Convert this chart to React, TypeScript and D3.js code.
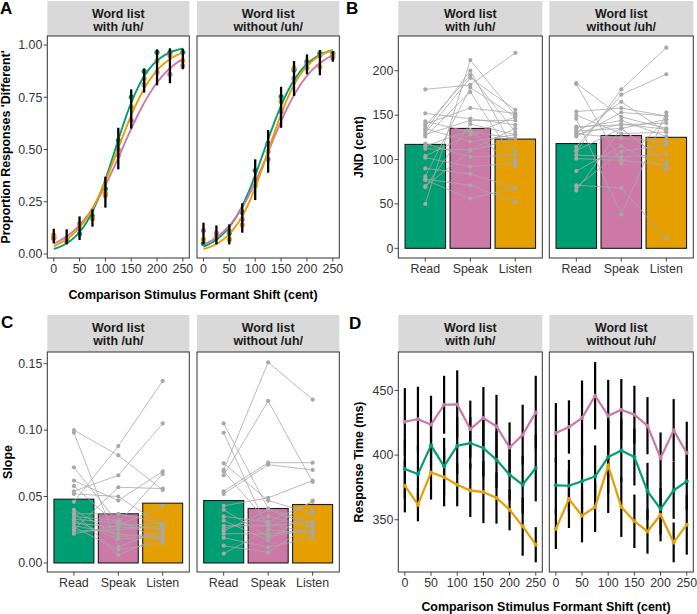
import * as d3 from 'd3';

// ---- shared ----
const groups = ['Read', 'Speak', 'Listen'];
const groupColors = ['#009E73', '#CC79A7', '#E69F00'];
const facetLines = [['Word list', 'with /uh/'], ['Word list', 'without /uh/']];
const shifts = [0, 25, 50, 75, 100, 125, 150, 175, 200, 225, 250];
const shiftTicks = [0, 50, 100, 150, 200, 250];

// ---- panel A: proportion 'different' (Read, Speak, Listen) ----
const propWith = [
  [0.08, 0.07, 0.097, 0.18, 0.312, 0.544, 0.751, 0.874, 0.965, 0.965, 0.965],
  [0.075, 0.06, 0.12, 0.17, 0.28, 0.472, 0.64, 0.81, 0.87, 0.86, 0.9],
  [0.09, 0.075, 0.145, 0.174, 0.29, 0.5, 0.703, 0.839, 0.923, 0.95, 0.925],
];
const propWithout = [
  [0.05, 0.08, 0.1, 0.2, 0.399, 0.53, 0.753, 0.88, 0.92, 0.96, 0.96],
  [0.112, 0.1, 0.11, 0.166, 0.36, 0.453, 0.68, 0.84, 0.91, 0.95, 0.94],
  [0.07, 0.08, 0.07, 0.139, 0.327, 0.49, 0.73, 0.888, 0.89, 0.896, 0.95],
];
const propLoWith = [0.051, 0.046, 0.067, 0.131, 0.222, 0.405, 0.6, 0.772, 0.807, 0.817, 0.884];
const propHiWith = [0.121, 0.118, 0.18, 0.214, 0.37, 0.604, 0.788, 0.888, 0.979, 0.984, 0.982];
const propLoWithout = [0.046, 0.046, 0.046, 0.102, 0.258, 0.389, 0.604, 0.756, 0.86, 0.855, 0.92];
const propHiWithout = [0.15, 0.137, 0.142, 0.243, 0.453, 0.593, 0.8, 0.923, 0.955, 0.976, 0.97];
// fitted logistic parameters per group (midpoint in cent, slope)
const fitMidWith = [119, 132, 124];
const fitSlopeWith = [0.031, 0.0223, 0.026];
const fitMidWithout = [118, 127, 126];
const fitSlopeWithout = [0.028, 0.024, 0.0295];

// ---- panel B: JND per participant ----
const jndReadWith = [179, 50, 152, 143, 140, 138, 135, 133, 130, 128, 126, 118, 115, 112, 104, 102, 90, 81, 78, 77, 70, 69];
const jndSpeakWith = [184, 212, 146, 131, 158, 195, 120, 200, 192, 144, 176, 103, 133, 111, 128, 92, 84, 181, 71, 56, 110, 140];
const jndListenWith = [220, 150, 139, 124, 152, 131, 128, 109, 156, 144, 99, 105, 92, 135, 148, 96, 68, 148, 52, 68, 124, 128];
const jndReadWithout = [186, 185, 154, 150, 146, 137, 135, 132, 129, 126, 114, 109, 105, 101, 87, 71, 69, 65, 130, 110, 128];
const jndSpeakWithout = [148, 96, 158, 129, 38, 139, 144, 135, 124, 153, 173, 179, 103, 99, 115, 68, 109, 135, 165, 135, 140];
const jndListenWithout = [135, 145, 149, 131, 153, 141, 126, 145, 120, 149, 196, 226, 106, 94, 89, 11, 117, 96, 131, 96, 134];
const jndMeanWith = [117, 135, 123];
const jndMeanWithout = [118, 127, 125];

// ---- panel C: slope per participant ----
const slopeReadWith = [0.1, 0.098, 0.072, 0.062, 0.058, 0.054, 0.052, 0.046, 0.04, 0.037, 0.035, 0.032, 0.03, 0.027, 0.025, 0.022, 0.038, 0.033, 0.028, 0.024];
const slopeSpeakWith = [0.081, 0.012, 0.03, 0.047, 0.028, 0.066, 0.05, 0.088, 0.02, 0.037, 0.032, 0.018, 0.027, 0.01, 0.057, 0.028, 0.006, 0.03, 0.022, 0.025];
const slopeListenWith = [0.055, 0.025, 0.067, 0.069, 0.043, 0.105, 0.028, 0.137, 0.022, 0.03, 0.017, 0.02, 0.026, 0.015, 0.056, 0.03, 0.02, 0.025, 0.018, 0.028];
const slopeReadWithout = [0.07, 0.066, 0.105, 0.098, 0.075, 0.054, 0.052, 0.043, 0.035, 0.032, 0.026, 0.022, 0.019, 0.013, 0.007, 0.069, 0.04, 0.028, 0.024];
const slopeSpeakWithout = [0.151, 0.122, 0.041, 0.025, 0.047, 0.0755, 0.074, 0.049, 0.031, 0.017, 0.035, 0.022, 0.012, 0.008, 0.025, 0.03, 0.02, 0.028, 0.04];
const slopeListenWithout = [0.123, 0.061, 0.03, 0.022, 0.037, 0.0755, 0.07, 0.062, 0.046, 0.04, 0.027, 0.025, 0.019, 0.03, 0.047, 0.022, 0.025, 0.031, 0.028];
const slopeMeanWith = [0.048, 0.037, 0.045];
const slopeMeanWithout = [0.047, 0.041, 0.044];

// ---- panel D: response time (mean, se) ----
const rtWith = [
  [389.2, 385.3, 407.5, 391.3, 407.2, 409.3, 405.4, 396.4, 384.8, 377.1, 390.0],
  [425.8, 427.8, 423.5, 438.9, 439.2, 420.1, 428.6, 422.2, 405.9, 415.7, 433.0],
  [376.3, 361.6, 386.6, 382.8, 377.1, 372.7, 371.4, 366.8, 357.8, 344.9, 330.7],
];
const rtSeWith = [
  [23, 22, 20, 22, 22, 20, 22, 22, 20, 22, 25.8],
  [26, 25, 22.4, 22.4, 26.3, 22, 24, 24.4, 19.4, 23.2, 28.3],
  [20.6, 12.8, 21, 22.4, 16.7, 20.6, 24, 19.8, 16, 22.7, 13.6],
];
const rtWithout = [
  [376.6, 376.3, 379.7, 383.5, 398.5, 403.6, 398.5, 372.0, 358.3, 372.7, 379.7],
  [417.0, 421.7, 428.6, 445.9, 430.4, 435.1, 431.2, 422.7, 397.7, 419.1, 401.6],
  [342.8, 366.0, 353.1, 359.8, 391.8, 359.8, 348.8, 341.0, 353.9, 332.5, 346.2],
];
const rtSeWithout = [
  [22, 20, 25, 24, 28, 24, 22, 22, 20, 22, 22],
  [23.2, 20.6, 29.1, 26, 27.8, 23.7, 22.4, 22.1, 19.8, 24.2, 24.2],
  [15.4, 22.4, 20.6, 19.3, 36.6, 23.1, 20.7, 17.2, 20.6, 15.4, 23.2],
];

const FONT = '"Liberation Sans", Arial, Helvetica, sans-serif';
const FS = 12.4;
const LEFT_FACETS = [[47.3, 189.3], [197, 339.3]];
const RIGHT_FACETS = [[398.3, 542.3], [549.3, 693.3]];
const TOP = { strip: [1, 36], panel: [36, 258] };
const BOTTOM = { strip: [315, 352], panel: [352, 572] };

type Row = typeof TOP;

function Strip({ x0, x1, row, lines }: { x0: number; x1: number; row: Row; lines: string[] }) {
  const [s0, s1] = row.strip;
  const cx = (x0 + x1) / 2;
  return (
    <g>
      <rect x={x0} y={s0} width={x1 - x0} height={s1 - s0} fill="#D9D9D9" />
      <text x={cx} y={s0 + 16.8} textAnchor="middle" fontSize={FS} fontWeight="bold" fill="#1A1A1A">{lines[0]}</text>
      <text x={cx} y={s0 + 30.2} textAnchor="middle" fontSize={FS} fontWeight="bold" fill="#1A1A1A">{lines[1]}</text>
    </g>
  );
}

function YAxis({ x, y, ticks, fmt }: { x: number; y: d3.ScaleLinear<number, number>; ticks: number[]; fmt: (v: number) => string }) {
  return (
    <g>
      {ticks.map(t => (
        <g key={t}>
          <line x1={x - 3.7} x2={x} y1={y(t)} y2={y(t)} stroke="#333" strokeWidth={0.9} />
          <text x={x - 5} y={y(t) + 4.3} textAnchor="end" fontSize={FS} fill="#333">{fmt(t)}</text>
        </g>
      ))}
    </g>
  );
}

function XTicks({ x, yb, ticks, labels }: { x: (v: any) => number; yb: number; ticks: any[]; labels: string[] }) {
  return (
    <g>
      {ticks.map((t, i) => (
        <g key={i}>
          <line x1={x(t)} x2={x(t)} y1={yb} y2={yb + 3.7} stroke="#333" strokeWidth={0.9} />
          <text x={x(t)} y={yb + 14.8} textAnchor="middle" fontSize={FS} fill="#333">{labels[i]}</text>
        </g>
      ))}
    </g>
  );
}

function Frame({ x0, x1, row }: { x0: number; x1: number; row: Row }) {
  const [p0, p1] = row.panel;
  return <rect x={x0} y={p0} width={x1 - x0} height={p1 - p0} fill="none" stroke="#333" strokeWidth={1} />;
}

function PanelA() {
  const row = TOP;
  const y = d3.scaleLinear().domain([-0.019, 1.043]).range([row.panel[1], row.panel[0]]);
  const data = [propWith, propWithout];
  const lo = [propLoWith, propLoWithout];
  const hi = [propHiWith, propHiWithout];
  const mids = [fitMidWith, fitMidWithout];
  const slopes = [fitSlopeWith, fitSlopeWithout];
  const fineX = d3.range(0, 250.5, 2.5);
  return (
    <g>
      {LEFT_FACETS.map(([x0, x1], f) => {
        const x = d3.scaleLinear().domain([-12.5, 262.5]).range([x0, x1]);
        return (
          <g key={f}>
            <Strip x0={x0} x1={x1} row={row} lines={facetLines[f]} />
            {data[f].map((vals, g) => (
              <g key={g}>
                {vals.map((v, i) => (
                  <circle key={i} cx={x(shifts[i])} cy={y(v)} r={2.6} fill={groupColors[g]} />
                ))}
              </g>
            ))}
            {mids[f].map((m, g) => {
              const line = d3.line<number>()
                .x(d => x(d))
                .y(d => y(1 / (1 + Math.exp(-slopes[f][g] * (d - m)))));
              return <path key={g} d={line(fineX) || ''} fill="none" stroke={groupColors[g]} strokeWidth={1.9} />;
            })}
            {shifts.map((s, i) => (
              <line key={i} x1={x(s)} x2={x(s)} y1={y(lo[f][i])} y2={y(hi[f][i])} stroke="black" strokeWidth={2.3} />
            ))}
            <Frame x0={x0} x1={x1} row={row} />
            {f === 0 && <YAxis x={x0} y={y} ticks={[0, 0.25, 0.5, 0.75, 1]} fmt={d3.format('.2f')} />}
            <XTicks x={x} yb={row.panel[1]} ticks={shiftTicks} labels={shiftTicks.map(String)} />
          </g>
        );
      })}
      <text x={193} y={298.5} textAnchor="middle" fontSize={FS} fontWeight="bold">Comparison Stimulus Formant Shift (cent)</text>
      <text transform={`translate(10,${(row.panel[0] + row.panel[1]) / 2}) rotate(-90)`} textAnchor="middle" fontSize={FS} fontWeight="bold">Proportion Responses 'Different'</text>
      <text x={0} y={14} fontSize={17} fontWeight="bold">A</text>
    </g>
  );
}

function BarPanel({ facets, row, domain, ticks, fmt, means, indiv, title, titleX, letter, letterX }: any) {
  const y = d3.scaleLinear().domain(domain).range([row.panel[1], row.panel[0]]);
  return (
    <g>
      {facets.map(([x0, x1]: number[], f: number) => {
        const band = d3.scaleBand<string>().domain(groups).range([x0, x1]).paddingInner(0.1).paddingOuter(0.15);
        const cx = (g: string) => (band(g) as number) + band.bandwidth() / 2;
        const parts: number[][] = indiv[f];
        const people = d3.range(parts[0].length);
        const line = d3.line<number>().x((_, i) => cx(groups[i])).y(d => y(d));
        return (
          <g key={f}>
            <Strip x0={x0} x1={x1} row={row} lines={facetLines[f]} />
            {groups.map((g, gi) => (
              <rect key={g} x={band(g)} y={y(means[f][gi])} width={band.bandwidth()} height={y(0) - y(means[f][gi])}
                fill={groupColors[gi]} stroke="#1A1A1A" strokeWidth={1.1} />
            ))}
            {people.map(p => (
              <path key={p} d={line(parts.map(arr => arr[p])) || ''} fill="none" stroke="#A8A8A8" strokeWidth={0.8} />
            ))}
            {parts.map((arr, gi) => arr.map((v, p) => (
              <circle key={`${gi}-${p}`} cx={cx(groups[gi])} cy={y(v)} r={2.1} fill="#A8A8A8" />
            )))}
            <Frame x0={x0} x1={x1} row={row} />
            {f === 0 && <YAxis x={x0} y={y} ticks={ticks} fmt={fmt} />}
            <XTicks x={cx} yb={row.panel[1]} ticks={groups} labels={groups} />
          </g>
        );
      })}
      <text transform={`translate(${titleX},${(row.panel[0] + row.panel[1]) / 2}) rotate(-90)`} textAnchor="middle" fontSize={FS} fontWeight="bold">{title}</text>
      <text x={letterX} y={row.strip[0] + 13} fontSize={17} fontWeight="bold">{letter}</text>
    </g>
  );
}

function PanelD() {
  const row = BOTTOM;
  const y = d3.scaleLinear().domain([309.6, 479.7]).range([row.panel[1], row.panel[0]]);
  const means = [rtWith, rtWithout];
  const ses = [rtSeWith, rtSeWithout];
  return (
    <g>
      {RIGHT_FACETS.map(([x0, x1], f) => {
        const x = d3.scaleLinear().domain([-12.5, 262.5]).range([x0, x1]);
        const line = d3.line<number>().x((_, i) => x(shifts[i])).y(d => y(d));
        return (
          <g key={f}>
            <Strip x0={x0} x1={x1} row={row} lines={facetLines[f]} />
            {means[f].map((vals, g) => vals.map((v, i) => (
              <line key={`${g}-${i}`} x1={x(shifts[i])} x2={x(shifts[i])} y1={y(v - ses[f][g][i])} y2={y(v + ses[f][g][i])}
                stroke="black" strokeWidth={2.2} />
            )))}
            {means[f].map((vals, g) => (
              <g key={g}>
                <path d={line(vals) || ''} fill="none" stroke={groupColors[g]} strokeWidth={2.2} />
                {vals.map((v, i) => <circle key={i} cx={x(shifts[i])} cy={y(v)} r={2} fill={groupColors[g]} />)}
              </g>
            ))}
            <Frame x0={x0} x1={x1} row={row} />
            {f === 0 && <YAxis x={x0} y={y} ticks={[350, 400, 450]} fmt={String} />}
            <XTicks x={x} yb={row.panel[1]} ticks={shiftTicks} labels={shiftTicks.map(String)} />
          </g>
        );
      })}
      <text x={546} y={610.5} textAnchor="middle" fontSize={FS} fontWeight="bold">Comparison Stimulus Formant Shift (cent)</text>
      <text transform={`translate(363,${(row.panel[0] + row.panel[1]) / 2}) rotate(-90)`} textAnchor="middle" fontSize={FS} fontWeight="bold">Response Time (ms)</text>
      <text x={349} y={329} fontSize={17} fontWeight="bold">D</text>
    </g>
  );
}

export default function App() {
  return (
    <svg width={697} height={614} style={{ position: 'absolute', left: 0, top: 0, fontFamily: FONT, background: 'white' }}>
      <rect width={697} height={614} fill="white" />
      <PanelA />
      <BarPanel facets={RIGHT_FACETS} row={TOP} domain={[-10.9, 239.1]} ticks={[0, 50, 100, 150, 200]} fmt={String}
        means={[jndMeanWith, jndMeanWithout]}
        indiv={[[jndReadWith, jndSpeakWith, jndListenWith], [jndReadWithout, jndSpeakWithout, jndListenWithout]]}
        title="JND (cent)" titleX={363} letter="B" letterX={346} />
      <BarPanel facets={LEFT_FACETS} row={BOTTOM} domain={[-0.0068, 0.1588]} ticks={[0, 0.05, 0.1, 0.15]} fmt={d3.format('.2f')}
        means={[slopeMeanWith, slopeMeanWithout]}
        indiv={[[slopeReadWith, slopeSpeakWith, slopeListenWith], [slopeReadWithout, slopeSpeakWithout, slopeListenWithout]]}
        title="Slope" titleX={12} letter="C" letterX={1} />
      <PanelD />
    </svg>
  );
}
